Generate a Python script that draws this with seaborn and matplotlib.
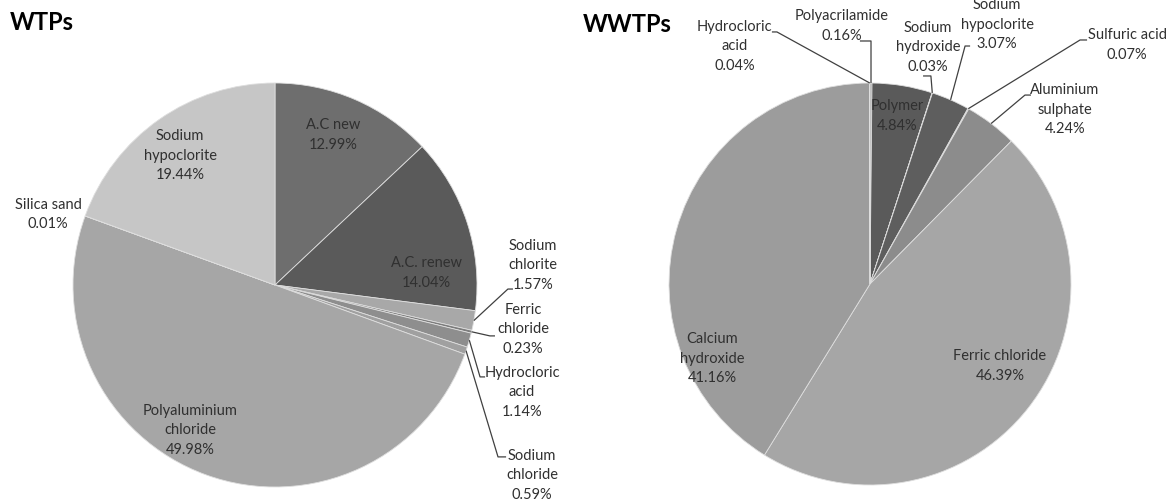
import matplotlib
matplotlib.use("Agg")
import matplotlib.pyplot as plt
import seaborn as sns
import numpy as np

sns.set_theme(style="white")
plt.rcParams['font.family'] = ['Lato', 'DejaVu Sans']

# ---------------- data ----------------
wtp_labels = ["A.C new", "A.C. renew", "Sodium\nchlorite", "Ferric\nchloride",
              "Hydrocloric\nacid", "Sodium\nchloride", "Polyaluminium\nchloride",
              "Silica sand", "Sodium\nhypoclorite"]
wtp_values = [12.99, 14.04, 1.57, 0.23, 1.14, 0.59, 49.98, 0.01, 19.44]
wtp_colors = ["#6e6e6e", "#5a5a5a", "#a8a8a8", "#7c7c7c", "#8e8e8e",
              "#a0a0a0", "#a6a6a6", "#bcbcbc", "#c6c6c6"]

wwtp_labels = ["Polyacrilamide", "Polymer", "Sodium\nhydroxide", "Sodium\nhypoclorite",
               "Sulfuric acid", "Aluminium\nsulphate", "Ferric chloride",
               "Calcium\nhydroxide", "Hydrocloric\nacid"]
wwtp_values = [0.16, 4.84, 0.03, 3.07, 0.07, 4.24, 46.39, 41.16, 0.04]
wwtp_colors = ["#8a8a8a", "#5a5a5a", "#7a7a7a", "#5e5e5e", "#6e6e6e",
               "#8c8c8c", "#a6a6a6", "#9c9c9c", "#7a7a7a"]

# ------------- layout (label positions relative to pie centre, radius=1) -------------
wtp_text_pos = [(0.287, 0.743), (0.748, 0.059), (1.277, 0.099), (1.228, -0.218),
                (1.223, -0.530), (1.272, -0.941), (-0.421, -0.718), (-1.124, 0.350),
                (-0.470, 0.639)]
# leader: (elbow, end) or None
wtp_leaders = [None, None, ((1.153, -0.020), (1.178, -0.020)),
               ((1.064, -0.252), (1.089, -0.252)),
               ((1.015, -0.455), (1.040, -0.455)),
               ((1.104, -0.851), (1.144, -0.851)), None, None, None]

wwtp_text_pos = [(-0.139, 1.284), (0.134, 0.836), (0.289, 1.179), (0.632, 1.289),
                 (1.279, 1.189), (0.970, 0.866), (0.647, -0.408), (-0.786, -0.373),
                 (-0.672, 1.184)]
wwtp_leaders = [((0.005, 1.209), (-0.050, 1.209)), None,
                ((0.303, 1.035), (0.264, 1.035)),
                ((0.473, 1.184), (0.498, 1.184)),
                ((1.045, 1.214), (1.080, 1.214)),
                ((0.771, 0.940), (0.801, 0.940)), None, None,
                ((-0.463, 1.254), (-0.488, 1.254))]

W, H = 1176, 504
fig = plt.figure(figsize=(W / 100, H / 100), dpi=100)
fig.patch.set_facecolor("white")


def make_axes(x0, x1):
    ax = fig.add_axes([x0 / W, 0, (x1 - x0) / W, 1])
    ax.set_axis_off()
    return ax


def draw_pie(ax, labels, values, colors, text_pos, leaders):
    wedges, _ = ax.pie(values, colors=colors, startangle=90, counterclock=False,
                       radius=1.0, center=(0, 0), frame=True,
                       wedgeprops=dict(edgecolor="#dedede", linewidth=0.6))
    ax.set_axis_off()
    for w, lab, v, pos, ld in zip(wedges, labels, values, text_pos, leaders):
        txt = f"{lab}\n{v:.2f}%"
        ax.text(pos[0], pos[1], txt, ha="center", va="center", fontsize=10.5,
                color="#303030", linespacing=1.5)
        if ld is not None:
            mid = np.deg2rad((w.theta1 + w.theta2) / 2)
            sx, sy = np.cos(mid), np.sin(mid)
            (ex, ey), (tx, ty) = ld
            ax.plot([sx, ex, tx], [sy, ey, ty], color="#404040", lw=0.9,
                    solid_capstyle="butt")


ax1 = make_axes(0, 588)
draw_pie(ax1, wtp_labels, wtp_values, wtp_colors, wtp_text_pos, wtp_leaders)
ax1.set_xlim((0 - 275) / 202, (588 - 275) / 202)
ax1.set_ylim(-(H - 285) / 202, 285 / 202)
ax1.set_aspect("auto")

ax2 = make_axes(588, 1176)
draw_pie(ax2, wwtp_labels, wwtp_values, wwtp_colors, wwtp_text_pos, wwtp_leaders)
ax2.set_xlim((588 - 870) / 201, (1176 - 870) / 201)
ax2.set_ylim(-(H - 284) / 201, 284 / 201)
ax2.set_aspect("auto")

fig.text(10 / W, 1 - 23 / H, "WTPs", fontsize=17, fontweight="bold",
         ha="left", va="center", color="black")
fig.text(583 / W, 1 - 25 / H, "WWTPs", fontsize=17, fontweight="bold",
         ha="left", va="center", color="black")

fig.savefig("out.png", dpi=100, facecolor="white")
